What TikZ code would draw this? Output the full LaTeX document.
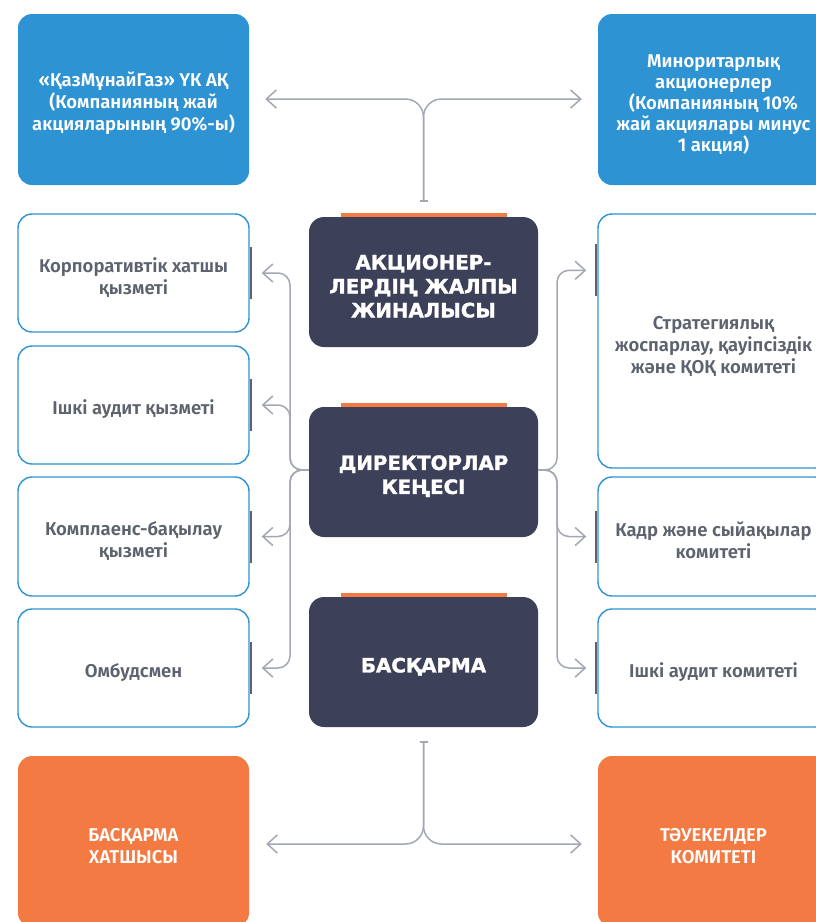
\documentclass[tikz,border=0pt]{standalone}
\usepackage{fontspec}
\setmainfont{Fira Sans}[BoldFont={Fira Sans SemiBold}]
\newfontfamily\titlefont{DejaVu Sans}[BoldFeatures={FakeBold=1.5}]
\usetikzlibrary{arrows.meta,calc}
\definecolor{cblue}{HTML}{2E93D2}
\definecolor{corange}{HTML}{F37B43}
\definecolor{cnavy}{HTML}{3D4059}
\definecolor{cgray}{HTML}{A3A7B1}
\definecolor{ctext}{HTML}{5D636E}
\definecolor{cbar}{HTML}{5E646F}
\newcommand\myLift{\rule{0pt}{23pt}}
\tikzset{
  chev/.tip={Straight Barb[length=10pt,width=18pt]},
  oneline/.style={execute at begin node={\rule{0pt}{24pt}}},
  box/.style={rounded corners=14pt, minimum width=231pt, align=center, inner sep=0pt,
    font=\bfseries\fontsize{18.5}{22}\selectfont},
  bluebox/.style={box, fill=cblue, text=white, minimum height=171pt},
  wbox/.style={box, draw=cblue, line width=1.4pt, fill=white, text=ctext},
  obox/.style={box, fill=corange, text=white, minimum height=171pt},
  navybox/.style={rounded corners=15pt, fill=cnavy, text=white, minimum width=229pt,
    minimum height=130pt, align=center, inner sep=0pt,
    font=\titlefont\bfseries\fontsize{19.8}{24}\selectfont},
  conn/.style={draw=cgray, line width=1.5pt, rounded corners=12pt, line join=round},
  sidebar/.style={draw=cbar, line width=2pt},
  topbar/.style={fill=corange}
}
\begin{document}
\begin{tikzpicture}[x=1pt,y=-1pt]
\useasboundingbox (0,0) rectangle (816,922);
\clip (0,0) rectangle (816,922);

% top level
\node[bluebox] (tl) at (133.5,99.5) {\myLift«ҚазМұнайГаз» ҮК АҚ\\(Компанияның жай\\акцияларының 90\%-ы)};
\node[bluebox, font=\bfseries\fontsize{18.5}{21}\selectfont] (tr) at (713.5,99.5) {\myLift Миноритарлық\\акционерлер\\(Компанияның 10\%\\жай акциялары минус\\1 акция)};

% left boxes
\node[wbox, minimum height=118pt] (lb1) at (133.5,273) {\myLift Корпоративтік хатшы\\қызметі};
\node[wbox, oneline, minimum height=118pt] (lb2) at (133.5,405) {Ішкі аудит қызметі};
\node[wbox, minimum height=119pt] (lb3) at (133.5,536.5) {\myLift Комплаенс-бақылау\\қызметі};
\node[wbox, oneline, minimum height=118pt] (lb4) at (133.5,668) {Омбудсмен};

% right boxes
\node[wbox, minimum height=254pt] (rb1) at (713.5,341) {\myLift Стратегиялық\\жоспарлау, қауіпсіздік\\және ҚОҚ комитеті};
\node[wbox, minimum height=119pt] (rb2) at (713.5,536.5) {\myLift Кадр және сыйақылар\\комитеті};
\node[wbox, oneline, minimum height=118pt] (rb3) at (713.5,668) {Ішкі аудит комитеті};

% central boxes
\node[navybox] (dk1) at (423.5,282) {\myLift АКЦИОНЕР-\\ЛЕРДІҢ ЖАЛПЫ\\ЖИНАЛЫСЫ};
\node[navybox] (dk2) at (423.5,472) {\myLift ДИРЕКТОРЛАР\\КЕҢЕСІ};
\node[navybox, oneline] (dk3) at (423.5,662) {БАСҚАРМА};
\foreach \d in {dk1,dk2,dk3}{
  \fill[topbar] ($(\d.north)+(-83,-4)$) rectangle ($(\d.north)+(83,0)$);
}

% bottom boxes
\node[obox] (bl) at (133.5,841.5) {\myLift БАСҚАРМА\\ХАТШЫСЫ};
\node[obox] (br) at (713.5,841.5) {\myLift ТӘУЕКЕЛДЕР\\КОМИТЕТІ};

% side bars
\foreach \b in {lb1,lb2,lb3,lb4}{
  \draw[sidebar] ($(\b.east)+(1.5,-26)$) -- ($(\b.east)+(1.5,26)$);
}
\coordinate (rb1a) at ($(rb1.north west)+(0,57)$);
\draw[sidebar] ($(rb1a)+(-1,-26)$) -- ($(rb1a)+(-1,26)$);
\foreach \b in {rb2,rb3}{
  \draw[sidebar] ($(\b.west)+(-1,-26)$) -- ($(\b.west)+(-1,26)$);
}

% top connector
\coordinate (tc) at ($(dk1.north)+(0,-15)$);
\coordinate (ht) at (423.5,99);
\draw[conn, rounded corners=18pt, {Bar[width=8pt]}-chev, shorten >=16pt] (tc) -- (ht) -- (tl.east |- ht);
\draw[conn, rounded corners=18pt, -chev, shorten >=16pt] (tc) -- (ht) -- (tr.west |- ht);

% bottom connector
\coordinate (bc) at ($(dk3.south)+(0,14)$);
\coordinate (hb) at (423.5,844);
\draw[conn, rounded corners=18pt, {Bar[width=8pt]}-chev, shorten >=17pt] (bc) -- (hb) -- (bl.east |- hb);
\draw[conn, rounded corners=18pt, -chev, shorten >=16pt] (bc) -- (hb) -- (br.west |- hb);

% left connectors
\coordinate (lj) at (290,470);
\foreach \b in {lb1,lb2,lb3,lb4}{
  \draw[conn, -chev, shorten >=12pt] (dk2.west |- lj) -- (lj) -- (lj |- \b) -- (\b.east);
}

% right connectors
\coordinate (rj) at (557,470);
\draw[conn, -chev, shorten >=11pt] (dk2.east |- rj) -- (rj) -- (rj |- rb1a) -- (rb1a);
\foreach \b in {rb2,rb3}{
  \draw[conn, -chev, shorten >=11pt] (dk2.east |- rj) -- (rj) -- (rj |- \b) -- (\b.west);
}
\end{tikzpicture}
\end{document}
